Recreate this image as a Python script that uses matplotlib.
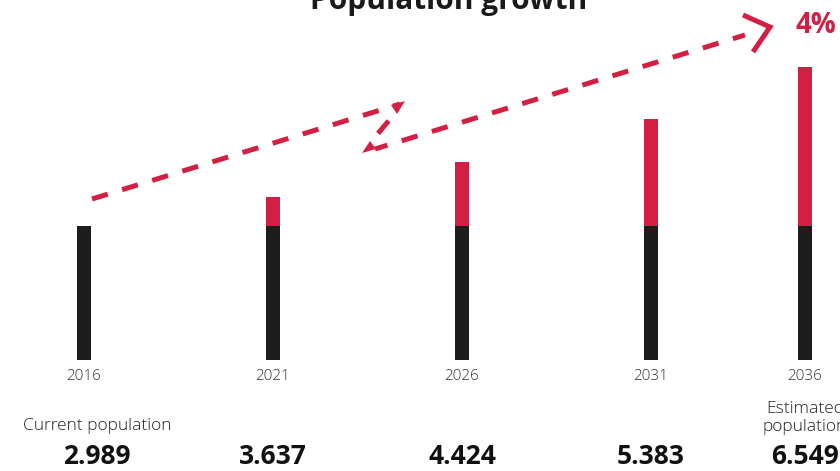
import matplotlib
matplotlib.use("Agg")
import matplotlib.pyplot as plt
from matplotlib.patches import Polygon

# Population (in thousands) per census year
years = ["2016", "2021", "2026", "2031", "2036"]
population = [2.989, 3.637, 4.424, 5.383, 6.549]
number_labels = ["2.989", "3.637", "4.424", "5.383", "6.549"]
current_value = population[0]
growth_label = "4%"
title = "Population growth"

BLACK = "#1d1d1b"
RED = "#d31f43"
FONT = "Open Sans"

W, H = 840, 471
fig = plt.figure(figsize=(W / 100, H / 100), dpi=100)
ax = fig.add_axes([0, 0, 1, 1])

# slot positions along the x axis (last column sits closer)
slots = [0, 1, 2, 3, 3.815]
px_per_slot = 189.0
x0_px = 84.0
ax.set_xlim(-x0_px / px_per_slot, (W - x0_px) / px_per_slot)

base_px = 360.0
px_per_unit = 44.7
ax.set_ylim(-(H - base_px) / px_per_unit, base_px / px_per_unit)
ax.axis("off")

bar_w = 14 / px_per_slot
for x, v in zip(slots, population):
    ax.bar(x, min(v, current_value), width=bar_w, color=BLACK, linewidth=0)
    if v > current_value:
        ax.bar(x, v - current_value, bottom=current_value, width=bar_w,
               color=RED, linewidth=0)

tx = ax.get_xaxis_transform()


def fy(py):
    return 1 - py / H


for i, (x, yr, lab) in enumerate(zip(slots, years, number_labels)):
    ax.text(x, fy(376), yr, transform=tx, ha="center", va="center",
            fontsize=11, color="#333333", family=FONT, fontweight="light")
    dx = 13 / px_per_slot if i == 0 else 0
    ax.text(x + dx, fy(456), lab, transform=tx, ha="center", va="center",
            fontsize=19, color="#111111", family=FONT, fontweight="bold")

ax.text(slots[0] + 13 / px_per_slot, fy(426), "Current population", transform=tx,
        ha="center", va="center", fontsize=12.5, color="#222222", family=FONT,
        fontweight="light")
ax.text(slots[-1], fy(418), "Estimated\npopulation", transform=tx,
        ha="center", va="center", fontsize=12.5, color="#222222", family=FONT,
        fontweight="light", linespacing=1.2)

# title and growth figure
fig.text(449 / W, fy(9), title, ha="center", va="baseline", fontsize=21.5,
         fontweight="bold", color="#1a1a1a", family=FONT)
fig.text(795 / W, fy(33), growth_label, ha="left", va="baseline", fontsize=20,
         fontweight="bold", color=RED, family=FONT)

# decorative broken arrow drawn in pixel space
ov = fig.add_axes([0, 0, 1, 1])
ov.set_xlim(0, W)
ov.set_ylim(H, 0)
ov.axis("off")
lw = 3.6
dash = (0, (3.3, 3.0))
ov.plot([92, 400], [199, 104], color=RED, lw=lw, ls=dash,
        dash_capstyle="butt")
ov.plot([396, 370], [112, 143], color=RED, lw=lw, ls=(4, (3.3, 3.0)),
        dash_capstyle="butt")
ov.plot([375, 745], [149, 35], color=RED, lw=lw, ls=(7, (3.3, 3.0)),
        dash_capstyle="butt")
ov.add_patch(Polygon([[405, 101], [391, 105], [397, 114]], closed=True,
                     color=RED, lw=0))
ov.add_patch(Polygon([[362, 153], [370, 141], [376, 149]], closed=True,
                     color=RED, lw=0))
ov.plot([743, 770, 753], [15, 27, 52], color=RED, lw=lw,
        solid_joinstyle="miter", solid_capstyle="butt")

fig.savefig("out.png", dpi=100)
